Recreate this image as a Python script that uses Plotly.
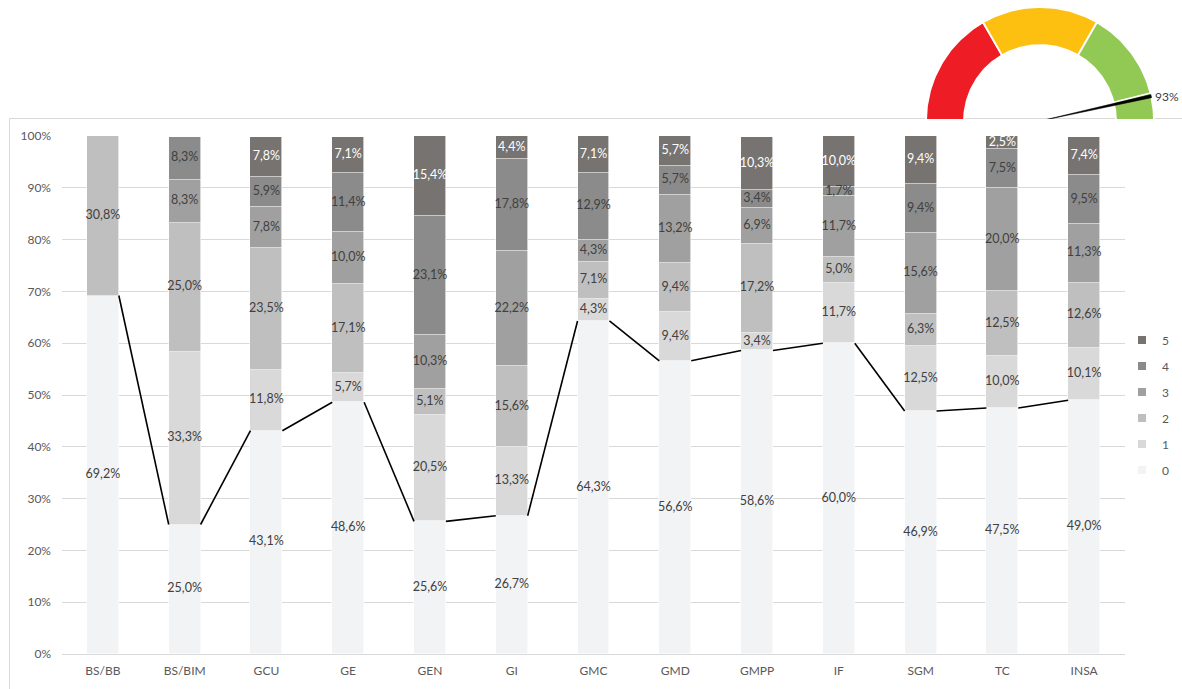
import math
import plotly.graph_objects as go

W, H = 1182, 689

# ---- data -------------------------------------------------------------
programs = ["BS/BB", "BS/BIM", "GCU", "GE", "GEN", "GI", "GMC",
            "GMD", "GMPP", "IF", "SGM", "TC", "INSA"]

# share of answers per level (%), bottom (0) to top (5)
level_0 = [69.2, 25.0, 43.1, 48.6, 25.6, 26.7, 64.3, 56.6, 58.6, 60.0, 46.9, 47.5, 49.0]
level_1 = [None, 33.3, 11.8, 5.7, 20.5, 13.3, 4.3, 9.4, 3.4, 11.7, 12.5, 10.0, 10.1]
level_2 = [30.8, 25.0, 23.5, 17.1, 5.1, 15.6, 7.1, 9.4, 17.2, 5.0, 6.3, 12.5, 12.6]
level_3 = [None, 8.3, 7.8, 10.0, 10.3, 22.2, 4.3, 13.2, 6.9, 11.7, 15.6, 20.0, 11.3]
level_4 = [None, 8.3, 5.9, 11.4, 23.1, 17.8, 12.9, 5.7, 3.4, 1.7, 9.4, 7.5, 9.5]
level_5 = [None, None, 7.8, 7.1, 15.4, 4.4, 7.1, 5.7, 10.3, 10.0, 9.4, 2.5, 7.4]

level_names = ["0", "1", "2", "3", "4", "5"]
y_ticks = list(range(0, 101, 10))
y_tick_labels = [f"{v}%" for v in y_ticks]

# gauge
gauge_value = 93
gauge_bounds = [0, 100 / 3, 200 / 3, 100]
gauge_colors = ["#EE1D25", "#FDC010", "#92C955"]

# ---- style ------------------------------------------------------------
levels = [level_0, level_1, level_2, level_3, level_4, level_5]
level_colors = ["#F2F3F5", "#D9D9D9", "#BFBFBF", "#A0A0A0", "#8B8B8B", "#767371"]
label_colors = ["#404040"] * 5 + ["#FFFFFF"]
FONT = "Lato"
TXT = "#404040"
AXT = "#595959"
GRID = "#D9D9D9"
bar_width = 0.39


def fmt(v):
    return "" if v is None else f"{v:.1f}".replace(".", ",") + "%"


def px_x(p):
    return p / W


def px_y(p):
    return 1 - p / H


fig = go.Figure()
n = len(programs)
xs = list(range(n))

for k, vals in enumerate(levels):
    fig.add_trace(go.Bar(
        x=xs, y=vals, width=bar_width,
        marker=dict(color=level_colors[k], line=dict(color="white", width=0.6)),
        showlegend=False, hoverinfo="skip",
    ))

# series line joining the tops of level 0 between neighbouring bars
hw = bar_width / 2
lx, ly = [], []
for i in range(n - 1):
    lx += [i + hw, i + 1 - hw, None]
    ly += [level_0[i], level_0[i + 1], None]
fig.add_trace(go.Scatter(x=lx, y=ly, mode="lines",
                         line=dict(color="black", width=1.6),
                         showlegend=False, hoverinfo="skip"))

# value labels centred in each segment, drawn above every bar
base = [0.0] * n
for k, vals in enumerate(levels):
    cx, cy, ct = [], [], []
    for i, v in enumerate(vals):
        if v is None:
            continue
        cx.append(i)
        cy.append(base[i] + v / 2)
        ct.append(fmt(v))
        base[i] += v
    fig.add_trace(go.Scatter(
        x=cx, y=cy, text=ct, mode="text", textposition="middle center",
        textfont=dict(family=FONT, size=12.5, color=label_colors[k]),
        cliponaxis=False, showlegend=False, hoverinfo="skip"))

# legend entries, highest level on top
for k, name in enumerate(level_names):
    fig.add_trace(go.Scatter(
        x=[None], y=[None], mode="markers", name=name, legendgroup=name,
        legendrank=100 - k,
        marker=dict(symbol="square", size=8, color=level_colors[k]),
    ))

# ---- gauge (drawn in pixel-like units on its own axes) ----------------
R_OUT, R_IN = 114, 76


def ang(v):
    return math.pi * (1 - v / 100)


def arc(v0, v1, r_out, r_in, steps=60):
    a0, a1 = ang(v0), ang(v1)
    pts = [a0 + (a1 - a0) * t / steps for t in range(steps + 1)]
    gx = [r_out * math.cos(a) for a in pts] + [r_in * math.cos(a) for a in reversed(pts)]
    gy = [r_out * math.sin(a) for a in pts] + [r_in * math.sin(a) for a in reversed(pts)]
    return gx + [gx[0]], gy + [gy[0]]


for j, col in enumerate(gauge_colors):
    gx, gy = arc(gauge_bounds[j], gauge_bounds[j + 1], R_OUT, R_IN)
    fig.add_trace(go.Scatter(x=gx, y=gy, xaxis="x2", yaxis="y2", mode="lines",
                             fill="toself", fillcolor=col,
                             line=dict(color="white", width=1.8),
                             showlegend=False, hoverinfo="skip"))

a = ang(gauge_value)
da = math.radians(0.8)
# slice border across the ring at the needle
fig.add_trace(go.Scatter(
    x=[R_IN * math.cos(a + 2 * da), (R_OUT + 1) * math.cos(a + 2 * da)],
    y=[R_IN * math.sin(a + 2 * da), (R_OUT + 1) * math.sin(a + 2 * da)],
    xaxis="x2", yaxis="y2", mode="lines", line=dict(color="white", width=1.6),
    showlegend=False, hoverinfo="skip"))
# needle
fig.add_trace(go.Scatter(
    x=[0, R_OUT * math.cos(a + da), R_OUT * math.cos(a - da), 0],
    y=[0, R_OUT * math.sin(a + da), R_OUT * math.sin(a - da), 0],
    xaxis="x2", yaxis="y2", mode="lines", fill="toself", fillcolor="black",
    line=dict(color="black", width=0.5), showlegend=False, hoverinfo="skip"))

gcx, gcy = 1040, 121   # gauge centre in page pixels
g_left, g_right, g_top, g_bottom = 900, W, 0, 119

fig.add_annotation(
    x=R_OUT * math.cos(a) + 2, y=R_OUT * math.sin(a), xref="x2", yref="y2",
    text=f"{gauge_value}%", showarrow=False, xanchor="left", yanchor="middle",
    font=dict(family=FONT, size=12, color=TXT))

# chart frame
fig.add_shape(type="rect", xref="paper", yref="paper",
              x0=px_x(9.5), x1=1.2, y0=-0.2, y1=px_y(118.5),
              line=dict(color=GRID, width=1), fillcolor="rgba(0,0,0,0)", layer="below")

fig.update_layout(
    width=W, height=H, margin=dict(l=0, r=0, t=0, b=0, autoexpand=False),
    paper_bgcolor="white", plot_bgcolor="white",
    barmode="stack", bargap=0,
    font=dict(family=FONT, size=12, color=AXT),
    xaxis=dict(domain=[px_x(62), px_x(1125)], range=[-0.5, n - 0.5],
               tickvals=xs, ticktext=programs, showgrid=False, zeroline=False,
               showline=False, ticks="", ticklabelstandoff=8, automargin=False,
               tickfont=dict(family=FONT, size=12, color=AXT), fixedrange=True),
    yaxis=dict(domain=[px_y(654), px_y(136)], range=[0, 100],
               tickmode="array", tickvals=y_ticks, ticktext=y_tick_labels,
               showgrid=True, gridcolor=GRID, gridwidth=1,
               zeroline=True, zerolinecolor=GRID, zerolinewidth=1,
               showline=False, ticks="", ticklabelstandoff=10, automargin=False,
               tickfont=dict(family=FONT, size=12, color=AXT), fixedrange=True),
    xaxis2=dict(domain=[px_x(g_left), px_x(g_right)], automargin=False,
                range=[g_left - gcx, g_right - gcx], visible=False, fixedrange=True),
    yaxis2=dict(domain=[px_y(g_bottom), px_y(g_top)], automargin=False,
                range=[gcy - g_bottom, gcy - g_top], visible=False, fixedrange=True),
    legend=dict(x=px_x(1122), xanchor="left", y=px_y(405), yanchor="middle",
                traceorder="grouped", tracegroupgap=7,
                font=dict(family=FONT, size=12, color=AXT),
                bgcolor="rgba(0,0,0,0)"),
    showlegend=True,
)

fig.write_html("out.html")
